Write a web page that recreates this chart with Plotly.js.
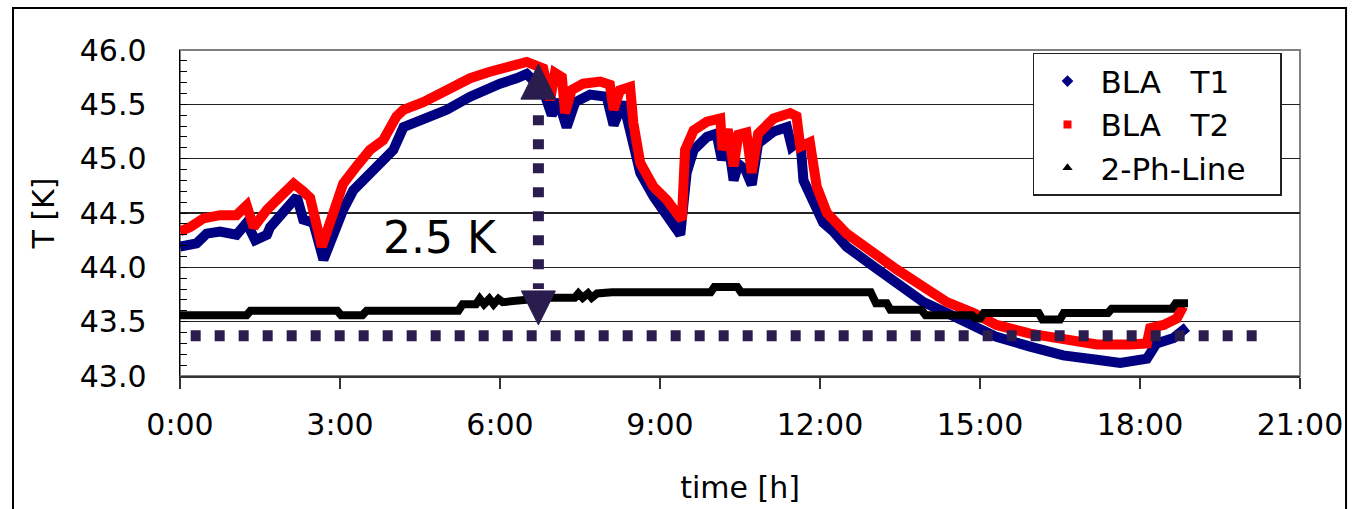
<!DOCTYPE html>
<html>
<head>
<meta charset="utf-8">
<script src="https://cdn.plot.ly/plotly-3.0.1.min.js"></script>
<style>
html,body{margin:0;padding:0;background:#fff;}
#chart{width:1359px;height:509px;}
</style>
</head>
<body>
<div id="chart"></div>
<script>
// ---- data (time in hours, temperature in K) ----
const t1Time = [0, 0.31, 0.5, 0.75, 1.06, 1.25, 1.41, 1.63, 1.69, 2.13, 2.19, 2.31, 2.5, 2.69, 2.88, 3.06, 3.25, 3.56, 3.81, 4.0, 4.19, 4.56, 5.0, 5.44, 5.81, 6.0, 6.31, 6.5, 6.81, 6.97, 7.09, 7.25, 7.41, 7.69, 8.0, 8.13, 8.31, 8.5, 8.63, 8.88, 9.13, 9.38, 9.5, 9.63, 9.88, 10.06, 10.16, 10.28, 10.38, 10.47, 10.6, 10.72, 10.84, 11.13, 11.38, 11.47, 11.63, 11.69, 11.88, 12.06, 12.25, 12.5, 13.0, 13.44, 13.94, 14.38, 14.88, 15.31, 15.94, 16.56, 17.19, 17.63, 18.13, 18.31, 18.63, 18.88];
const t1Temp = [44.19, 44.22, 44.31, 44.33, 44.30, 44.41, 44.25, 44.30, 44.37, 44.62, 44.65, 44.44, 44.41, 44.07, 44.31, 44.53, 44.71, 44.87, 44.99, 45.08, 45.29, 45.36, 45.45, 45.57, 45.66, 45.69, 45.74, 45.78, 45.63, 45.40, 45.54, 45.29, 45.52, 45.59, 45.57, 45.31, 45.52, 45.17, 44.87, 44.65, 44.47, 44.30, 44.87, 45.08, 45.20, 45.23, 44.99, 45.15, 44.80, 44.95, 44.90, 44.76, 45.14, 45.25, 45.29, 45.11, 45.17, 44.80, 44.60, 44.41, 44.33, 44.19, 44.01, 43.85, 43.68, 43.58, 43.47, 43.36, 43.27, 43.19, 43.15, 43.12, 43.16, 43.30, 43.35, 43.45];

const t2Time = [0, 0.19, 0.44, 0.75, 1.06, 1.25, 1.38, 1.63, 1.88, 2.13, 2.31, 2.44, 2.66, 2.88, 3.06, 3.31, 3.56, 3.81, 4.06, 4.19, 4.56, 5.0, 5.44, 5.81, 6.31, 6.5, 6.81, 6.94, 7.03, 7.16, 7.22, 7.34, 7.56, 7.88, 8.06, 8.13, 8.25, 8.44, 8.5, 8.63, 8.88, 9.13, 9.31, 9.41, 9.47, 9.63, 9.88, 10.13, 10.17, 10.27, 10.38, 10.47, 10.62, 10.72, 10.84, 11.13, 11.44, 11.56, 11.63, 11.81, 11.94, 12.13, 12.5, 13.0, 13.44, 13.94, 14.38, 14.88, 15.31, 15.94, 16.56, 17.19, 17.81, 18.13, 18.19, 18.44, 18.69, 18.81];
const t2Temp = [44.33, 44.37, 44.45, 44.48, 44.48, 44.57, 44.37, 44.53, 44.65, 44.77, 44.70, 44.64, 44.19, 44.50, 44.77, 44.93, 45.08, 45.17, 45.39, 45.45, 45.52, 45.63, 45.74, 45.80, 45.88, 45.89, 45.83, 45.54, 45.79, 45.75, 45.42, 45.63, 45.69, 45.71, 45.68, 45.45, 45.63, 45.66, 45.33, 44.96, 44.74, 44.62, 44.50, 44.44, 45.08, 45.26, 45.34, 45.37, 45.08, 45.27, 44.93, 45.22, 45.24, 44.87, 45.23, 45.37, 45.42, 45.39, 45.11, 45.15, 44.74, 44.50, 44.31, 44.13, 43.98, 43.82, 43.68, 43.58, 43.47, 43.39, 43.33, 43.29, 43.29, 43.30, 43.44, 43.47, 43.53, 43.64];

const phTime = [0, 1.25, 1.32, 2.95, 3.02, 3.42, 3.5, 5.22, 5.3, 5.55, 5.62, 5.7, 5.8, 5.88, 5.97, 6.05, 6.9, 7.4, 7.47, 7.55, 7.65, 7.72, 7.82, 8.1, 9.95, 10.02, 10.45, 10.52, 12.95, 13.05, 13.25, 13.32, 13.9, 13.98, 14.85, 14.92, 15.0, 15.07, 16.1, 16.17, 16.5, 16.57, 17.4, 17.47, 18.6, 18.67, 18.9];
const phTemp = [43.56, 43.56, 43.60, 43.60, 43.56, 43.56, 43.60, 43.60, 43.66, 43.66, 43.71, 43.66, 43.71, 43.66, 43.71, 43.68, 43.72, 43.72, 43.76, 43.72, 43.76, 43.72, 43.76, 43.77, 43.77, 43.82, 43.82, 43.77, 43.77, 43.67, 43.67, 43.61, 43.61, 43.56, 43.56, 43.53, 43.53, 43.58, 43.58, 43.52, 43.52, 43.58, 43.58, 43.62, 43.62, 43.67, 43.67];

const seriesNames = ['BLA\u00a0\u00a0\u00a0T1', 'BLA\u00a0\u00a0\u00a0T2', '2-Ph-Line\u00a0\u00a0\u00a0'];
const xTickVals = [0, 3, 6, 9, 12, 15, 18, 21];
const xTickText = ['0:00', '3:00', '6:00', '9:00', '12:00', '15:00', '18:00', '21:00'];

// annotation: 2.5 K difference marker
const refLevelTime = [0.2, 20.25];
const refLevelTemp = [43.37, 43.37];
const arrowTime = 6.72;
const arrowTemp = [45.87, 43.47];      // tips of up / down arrowheads
const arrowShaftTemp = [45.40, 43.80];
const diffLabel = '2.5 K';
const diffLabelPos = [4.875, 44.275];

const FONT = 'DejaVu Sans, Arial, sans-serif';
const NAVY = '#000080', RED = '#ff0000', ANNO = '#2a1d4e';

const traces = [
  {x: t1Time, y: t1Temp, mode: 'lines', line: {color: NAVY, width: 10}, showlegend: false, legendgroup: 'a', hoverinfo: 'skip'},
  {x: t2Time, y: t2Temp, mode: 'lines', line: {color: RED, width: 10}, showlegend: false, legendgroup: 'b', hoverinfo: 'skip'},
  {x: phTime, y: phTemp, mode: 'lines', line: {color: '#000', width: 8}, showlegend: false, legendgroup: 'c', hoverinfo: 'skip'},
  // legend entries (marker-only, as in the reference)
  {x: [null], y: [null], mode: 'markers', name: seriesNames[0], legendgroup: 'a', marker: {symbol: 'diamond', size: 9, color: NAVY}},
  {x: [null], y: [null], mode: 'markers', name: seriesNames[1], legendgroup: 'b', marker: {symbol: 'square', size: 8, color: RED}},
  {x: [null], y: [null], mode: 'markers', name: seriesNames[2], legendgroup: 'c', marker: {symbol: 'triangle-up', size: 9, color: '#000'}},
  // dotted reference level and dotted arrow shaft
  {x: refLevelTime, y: refLevelTemp, mode: 'lines', line: {color: ANNO, width: 11, dash: '10px,14px'}, showlegend: false, hoverinfo: 'skip'},
  {x: [arrowTime, arrowTime], y: arrowShaftTemp, mode: 'lines', line: {color: ANNO, width: 11, dash: '10px,14px'}, showlegend: false, hoverinfo: 'skip'},
  {x: [arrowTime, arrowTime], y: arrowTemp, mode: 'markers', opacity: 1,
   marker: {symbol: ['arrow-up', 'arrow-down'], size: [35, 34], color: ANNO, opacity: 1, line: {color: ANNO, width: 1}},
   showlegend: false, hoverinfo: 'skip'}
];

const layout = {
  width: 1359, height: 509,
  margin: {l: 180, r: 59, t: 50, b: 133},
  paper_bgcolor: '#fff', plot_bgcolor: '#fff',
  font: {family: FONT, color: '#000', size: 30},
  showlegend: true,
  legend: {
    x: 0.7616, y: 0.991, xanchor: 'left', yanchor: 'top',
    bgcolor: '#fff', bordercolor: '#222', borderwidth: 1.5,
    font: {family: FONT, size: 31, color: '#000'},
    itemwidth: 56, tracegroupgap: 0
  },
  xaxis: {
    range: [0, 21], tickmode: 'array', tickvals: xTickVals, ticktext: xTickText,
    ticks: 'outside', ticklen: 11, tickwidth: 1.5, tickcolor: '#333',
    showline: true, linecolor: '#333', linewidth: 1.5,
    showgrid: false, zeroline: false,
    tickfont: {family: FONT, size: 30},
    ticklabelstandoff: 10,
    title: {text: 'time [h]', font: {family: FONT, size: 30}, standoff: 36}
  },
  yaxis: {
    range: [43, 46], dtick: 0.5, tick0: 43, tickformat: '.1f',
    ticks: 'inside', ticklen: 7, tickwidth: 1, tickcolor: '#000',
    minor: {dtick: 0.1, ticks: 'inside', ticklen: 7, tickcolor: '#000', tickwidth: 1, showgrid: false},
    showline: true, linecolor: '#000', linewidth: 1.5,
    showgrid: true, gridcolor: '#222', gridwidth: 1.5, zeroline: false,
    tickfont: {family: FONT, size: 30},
    ticklabelstandoff: 26,
    title: {text: 'T [K]', font: {family: FONT, size: 30}, standoff: 16}
  },
  annotations: [
    {x: diffLabelPos[0], y: diffLabelPos[1], xref: 'x', yref: 'y', text: diffLabel, showarrow: false,
     font: {family: FONT, size: 44, color: '#000'}}
  ],
  shapes: [
    // plot-area frame (grey top/right)
    {type: 'rect', xref: 'paper', yref: 'paper', x0: 0, x1: 1, y0: 0, y1: 1, line: {color: '#808080', width: 2}, layer: 'below'},
    // outer chart frame
    {type: 'rect', xref: 'paper', yref: 'paper', x0: -0.1491, x1: 1.0411, y0: -0.43, y1: 1.1288, line: {color: '#000', width: 2}, layer: 'below'}
  ]
};

Plotly.newPlot('chart', traces, layout, {displayModeBar: false, staticPlot: true});
</script>
</body>
</html>
